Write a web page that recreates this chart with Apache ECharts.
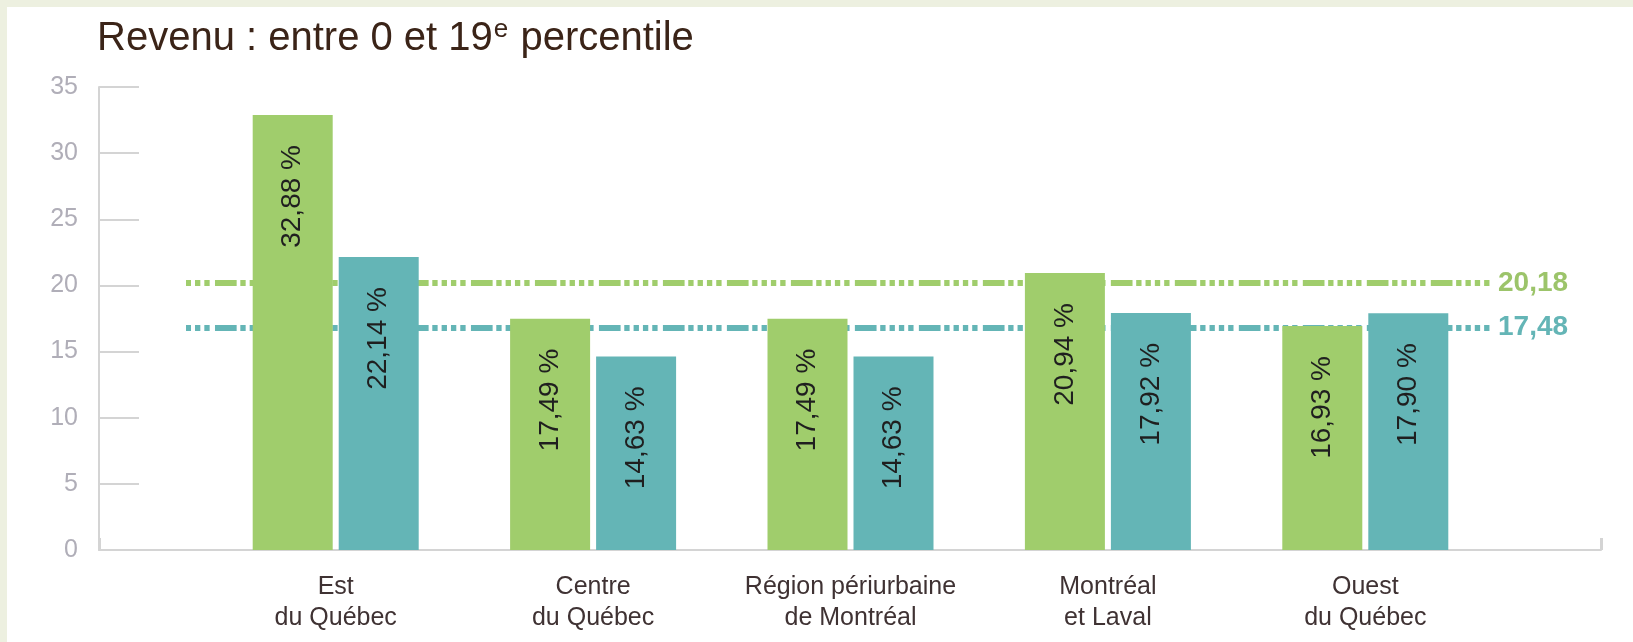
<!DOCTYPE html>
<html><head><meta charset="utf-8">
<script src="https://cdn.jsdelivr.net/npm/echarts@6/dist/echarts.min.js"></script>
<style>html,body{margin:0;padding:0;background:#fff}#c{width:1633px;height:642px}</style>
</head><body><div id="c"></div>
<script>
// ---- data ----
const categories = ['Est\ndu Québec', 'Centre\ndu Québec', 'Région périurbaine\nde Montréal', 'Montréal\net Laval', 'Ouest\ndu Québec'];
const greenValues = [32.88, 17.49, 17.49, 20.94, 16.93];
const tealValues = [22.14, 14.63, 14.63, 17.92, 17.90];
const yMin = 0, yMax = 35, yInterval = 5;
const refLevels = [20.18, 16.8];          // line positions as drawn in the picture
const refLabels = ['20,18', '17,48'];     // printed labels
const titleText = 'Revenu : entre 0 et 19{sup|e} percentile';

// ---- style ----
const FONT = "'Liberation Sans', Arial, sans-serif";
const GREEN = '#a0cd6c', TEAL = '#64b5b6';
const GREEN_TXT = '#9cc46a', TEAL_TXT = '#64b5b6';
const AXIS = '#d4d4d4';
const DASH = [21.67, 3.67, 5.33, 4, 5.33, 4, 5.33, 4, 5.33, 5.33];

function fmt(v) { return v.toFixed(2).replace('.', ',') + ' %'; }

function refLine(level, label, color, txtColor) {
  return {
    silent: true, symbol: ['none', 'none'], z: 1,
    lineStyle: { type: DASH, dashOffset: 35, width: 6, color: color, opacity: 1 },
    label: {
      show: true, position: 'end', distance: 5, formatter: label,
      color: txtColor, fontFamily: FONT, fontSize: 28, fontWeight: 'bold',
      padding: [0, 0, 14, 0]
    },
    emphasis: { disabled: true },
    data: [[{ x: 186, yAxis: level }, { x: 1493, yAxis: level }]]
  };
}

const chart = echarts.init(document.getElementById('c'), null, { renderer: 'canvas' });
chart.setOption({
  backgroundColor: '#ffffff',
  animation: false,
  textStyle: { fontFamily: FONT },
  graphic: [
    { type: 'rect', shape: { x: 0, y: 0, width: 1633, height: 7 }, style: { fill: '#edf0e0' }, silent: true },
    { type: 'rect', shape: { x: 0, y: 0, width: 7, height: 642 }, style: { fill: '#edf0e0' }, silent: true }
  ],
  title: {
    text: titleText, left: 97, top: 17, padding: 0,
    textStyle: {
      fontFamily: FONT, fontSize: 40, lineHeight: 44, fontWeight: 'normal', color: '#3b2418',
      rich: { sup: { fontFamily: FONT, fontSize: 26, lineHeight: 26, verticalAlign: 'top', color: '#3b2418', padding: [0, 1, 0, 1] } }
    }
  },
  grid: [
    { left: 99, top: 87, width: 1502, height: 463 },
    { left: 207, top: 87, width: 1287, height: 463 }
  ],
  xAxis: [
    { gridIndex: 0, type: 'value', min: 0, max: 1, interval: 1,
      axisLine: { show: true, onZero: false, lineStyle: { color: AXIS, width: 2 } },
      axisTick: { show: true, inside: true, length: 12, lineStyle: { color: AXIS, width: 3 } },
      axisLabel: { show: false }, splitLine: { show: false } },
    { gridIndex: 1, type: 'category', data: categories,
      axisLine: { show: false }, axisTick: { show: false }, splitLine: { show: false },
      axisLabel: { interval: 0, margin: 22, fontFamily: FONT, fontSize: 25, lineHeight: 31, color: '#3f3233', align: 'center' } }
  ],
  yAxis: [
    { gridIndex: 0, type: 'value', min: yMin, max: yMax, interval: yInterval,
      axisLine: { show: true, lineStyle: { color: AXIS, width: 2 } },
      axisTick: { show: true, inside: true, length: 40, lineStyle: { color: AXIS, width: 2 } },
      splitLine: { show: false },
      axisLabel: { margin: 21, fontFamily: FONT, fontSize: 25, color: '#b0aeb8' } },
    { gridIndex: 1, type: 'value', min: yMin, max: yMax, interval: yInterval, show: false, splitLine: { show: false } }
  ],
  series: [
    { type: 'bar', xAxisIndex: 1, yAxisIndex: 1, data: greenValues, barWidth: 80, barGap: '7.5%',
      itemStyle: { color: GREEN }, z: 2,
      label: { show: true, position: 'insideTop', rotate: 90, align: 'right', verticalAlign: 'middle', distance: 30,
        formatter: p => fmt(p.value), fontFamily: FONT, fontSize: 28, color: '#1f1f1f' },
      markLine: refLine(refLevels[0], refLabels[0], GREEN, GREEN_TXT) },
    { type: 'bar', xAxisIndex: 1, yAxisIndex: 1, data: tealValues, barWidth: 80, barGap: '7.5%',
      itemStyle: { color: TEAL }, z: 2,
      label: { show: true, position: 'insideTop', rotate: 90, align: 'right', verticalAlign: 'middle', distance: 30,
        formatter: p => fmt(p.value), fontFamily: FONT, fontSize: 28, color: '#1f1f1f' },
      markLine: refLine(refLevels[1], refLabels[1], TEAL, TEAL_TXT) }
  ]
});
</script></body></html>
